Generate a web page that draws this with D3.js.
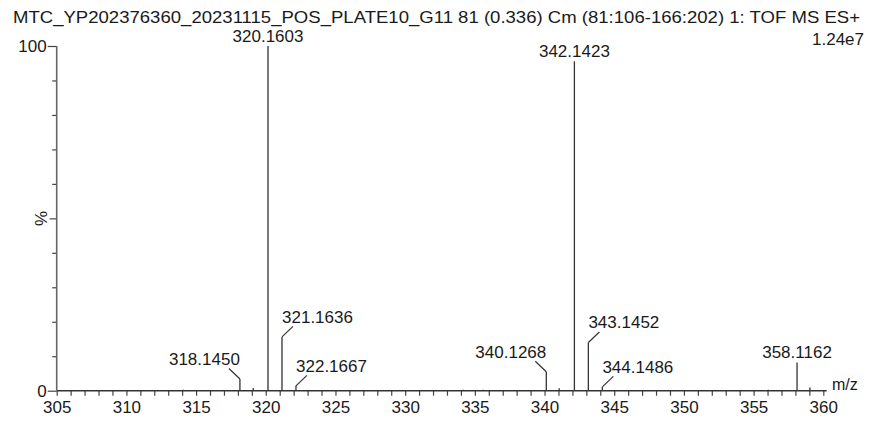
<!DOCTYPE html>
<html>
<head>
<meta charset="utf-8">
<script src="https://cdn.jsdelivr.net/npm/d3@7"></script>
<style>
  body { margin: 0; background: #fff; }
  text { font-family: "Liberation Sans", Arial, sans-serif; fill: #1a1a1a; }
</style>
</head>
<body>
<div id="chart"></div>
<script>
var width = 872;
var height = 423;

var title = "MTC_YP202376360_20231115_POS_PLATE10_G11 81 (0.336) Cm (81:106-166:202) 1: TOF MS ES+";
var scaleLabel = "1.24e7";

// peaks (m/z, relative intensity %)
var peakMz = [314.08, 318.1450, 319.10, 320.1603, 321.1636, 322.1667, 334.17, 335.60,
	340.1268, 341.05, 342.1423, 343.1452, 344.1486, 356.05, 358.1162, 359.04];
var peakInt = [0.3, 3.4, 0.8, 100, 15.6, 1.4, 0.3, 0.3,
	5.5, 0.7, 95.6, 14.0, 1.1, 0.3, 8.2, 0.9];

// labelled peaks and the side the label sits on (-1 left, 0 above, 1 right)
var labelMz = [318.1450, 320.1603, 321.1636, 322.1667, 340.1268, 342.1423, 343.1452, 344.1486, 358.1162];
var labelSide = [-1, 0, 1, 1, -1, 0, 1, 1, 0];

var xDomain = [305, 360];
var xTickLabels = [305, 310, 315, 320, 325, 330, 335, 340, 345, 350, 355, 360];
var yTicks = [0, 10, 20, 30, 40, 50, 60, 70, 80, 90, 100];
var yTickLabels = [0, 100];

var x = d3.scaleLinear().domain(xDomain).range([56.7, 823.3]);
var y = d3.scaleLinear().domain([0, 100]).range([390.7, 46]);

var svg = d3.select("#chart").append("svg")
	.attr("width", width)
	.attr("height", height);

svg.append("text")
	.attr("x", 13).attr("y", 22.5)
	.attr("textLength", 847)
	.attr("lengthAdjust", "spacingAndGlyphs")
	.style("font-size", "17px")
	.text(title);

svg.append("text")
	.attr("x", 864).attr("y", 45)
	.attr("text-anchor", "end")
	.style("font-size", "17px")
	.text(scaleLabel);

// x axis
var xAxis = d3.axisBottom(x)
	.tickValues(d3.range(305, 361, 1))
	.tickSize(5)
	.tickSizeOuter(0)
	.tickFormat(function(d) { return xTickLabels.indexOf(d) >= 0 ? d : ""; });

var gx = svg.append("g")
	.attr("transform", "translate(0," + y(0) + ")")
	.call(xAxis);
gx.select(".domain").remove();
gx.selectAll(".tick line").attr("stroke", "#444").attr("stroke-width", 1.2);
gx.selectAll(".tick text")
	.attr("y", 10)
	.attr("dy", "0.71em")
	.style("font-size", "17px")
	.style("font-family", "'Liberation Sans', Arial, sans-serif")
	.attr("fill", "#1a1a1a");
gx.append("line")
	.attr("x1", x(305)).attr("x2", 826.7)
	.attr("stroke", "#333").attr("stroke-width", 1.5);

svg.append("text")
	.attr("x", 832).attr("y", 390)
	.style("font-size", "16px")
	.text("m/z");

// y axis
var yAxis = d3.axisLeft(y)
	.tickValues(yTicks)
	.tickSizeOuter(0)
	.tickFormat(function(d) { return yTickLabels.indexOf(d) >= 0 ? d : ""; });

var gy = svg.append("g")
	.attr("transform", "translate(" + x(305) + ",0)")
	.call(yAxis);
gy.select(".domain").remove();
gy.selectAll(".tick line")
	.attr("x2", function(d) { return (d == 0 || d == 100) ? -9 : (d == 50 ? -7 : -4.5); })
	.attr("stroke", "#444").attr("stroke-width", 1.2);
gy.selectAll(".tick text")
	.attr("x", -10)
	.style("font-size", "17px")
	.style("font-family", "'Liberation Sans', Arial, sans-serif")
	.attr("fill", "#1a1a1a");
gy.append("line")
	.attr("y1", y(100)).attr("y2", y(0))
	.attr("stroke", "#666").attr("stroke-width", 1.6);

svg.append("text")
	.attr("transform", "translate(47," + y(50) + ") rotate(-90)")
	.attr("text-anchor", "middle")
	.style("font-size", "17px")
	.text("%");

// peaks
svg.append("g").selectAll("line").data(peakMz)
	.enter().append("line")
	.attr("x1", function(d) { return x(d); })
	.attr("x2", function(d) { return x(d); })
	.attr("y1", y(0))
	.attr("y2", function(d, i) { return y(peakInt[i]); })
	.attr("stroke", "#333")
	.attr("stroke-width", 1.3);

// labels with leaders
var labels = labelMz.map(function(mz, i) {
	var px = x(mz);
	var top = y(peakInt[peakMz.indexOf(mz)]);
	var side = labelSide[i];
	return {
		text: mz.toFixed(4),
		px: px,
		top: top,
		side: side,
		tx: px + side * 35.5,
		ty: side == 0 ? top - 4 : top - 14,
		lx: px + side * 11,
		ly: side == 0 ? top : top - 10.5
	};
});

var lab = svg.append("g").selectAll("g").data(labels).enter().append("g");

lab.filter(function(d) { return d.side != 0; })
	.append("line")
	.attr("x1", function(d) { return d.px; })
	.attr("y1", function(d) { return d.top; })
	.attr("x2", function(d) { return d.lx; })
	.attr("y2", function(d) { return d.ly; })
	.attr("stroke", "#333")
	.attr("stroke-width", 1.2);

lab.append("text")
	.attr("x", function(d) { return d.tx; })
	.attr("y", function(d) { return d.ty; })
	.attr("text-anchor", "middle")
	.style("font-size", "17px")
	.text(function(d) { return d.text; });
</script>
</body>
</html>
